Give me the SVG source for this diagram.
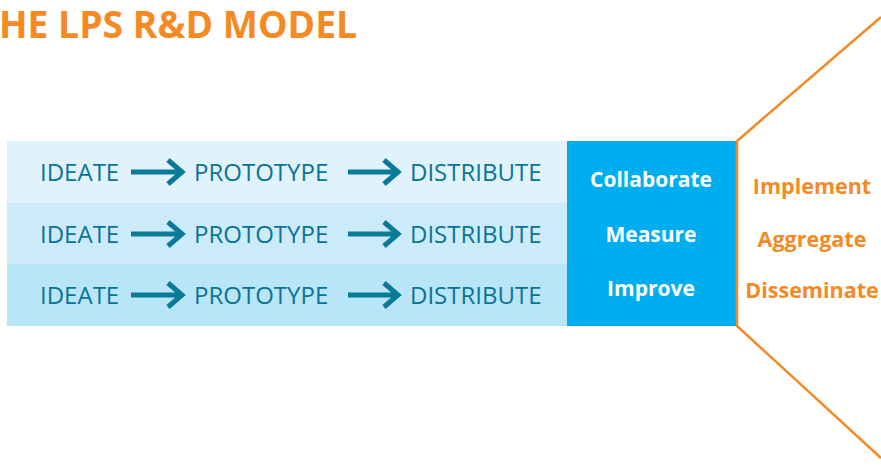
<svg xmlns="http://www.w3.org/2000/svg" width="881" height="467" viewBox="0 0 881 467">
<style>
.step{font-family:"Open Sans","Noto Sans",sans-serif;font-size:24px;fill:#0B7396}
.mid{font-family:"Open Sans","Noto Sans",sans-serif;font-size:21px;font-weight:bold;fill:#FFFFFF;text-anchor:middle}
.out{font-family:"Open Sans","Noto Sans",sans-serif;font-size:21.5px;font-weight:bold;fill:#F58A24;text-anchor:middle}
.arr{stroke:#0A7A99;stroke-width:5;fill:none}
</style>
<rect width="881" height="467" fill="#FFFFFF"/>
<text x="-1" y="38" font-family="'Open Sans','Noto Sans',sans-serif" font-size="37.3" font-weight="bold" fill="#F58A24">HE LPS R&amp;D MODEL</text>
<g id="row1">
<rect x="7" y="141" width="560" height="62" fill="#E0F3FC"/>
<text class="step" x="40" y="181">IDEATE</text>
<text class="step" x="194" y="181">PROTOTYPE</text>
<text class="step" x="410" y="181">DISTRIBUTE</text>
</g>
<g id="row2">
<rect x="7" y="203" width="560" height="61" fill="#CCEBFA"/>
<text class="step" x="40" y="243">IDEATE</text>
<text class="step" x="194" y="243">PROTOTYPE</text>
<text class="step" x="410" y="243">DISTRIBUTE</text>
</g>
<g id="row3">
<rect x="7" y="264" width="560" height="62" fill="#B9E5F9"/>
<text class="step" x="40" y="304">IDEATE</text>
<text class="step" x="194" y="304">PROTOTYPE</text>
<text class="step" x="410" y="304">DISTRIBUTE</text>
</g>
<g id="center">
<rect x="567" y="141" width="169" height="185" fill="#00AEEF"/>
<text class="mid" x="651" y="187">Collaborate</text>
<text class="mid" x="651" y="242">Measure</text>
<text class="mid" x="651" y="296">Improve</text>
</g>
<g id="outcome">
<path d="M881,17 L737,141 L737,326 L881,458" fill="none" stroke="#F58A24" stroke-width="2.5"/>
<text class="out" x="812" y="194">Implement</text>
<text class="out" x="812" y="247">Aggregate</text>
<text class="out" x="812" y="298">Disseminate</text>
</g>
<g id="connectors">
<path class="arr" d="M131,172 H183 M168,160 L182,172 L168,184"/>
<path class="arr" d="M348,172 H399 M384,160 L398,172 L384,184"/>
<path class="arr" d="M131,234 H183 M168,222 L182,234 L168,246"/>
<path class="arr" d="M348,234 H399 M384,222 L398,234 L384,246"/>
<path class="arr" d="M131,295 H183 M168,283 L182,295 L168,307"/>
<path class="arr" d="M348,295 H399 M384,283 L398,295 L384,307"/>
</g>
</svg>
